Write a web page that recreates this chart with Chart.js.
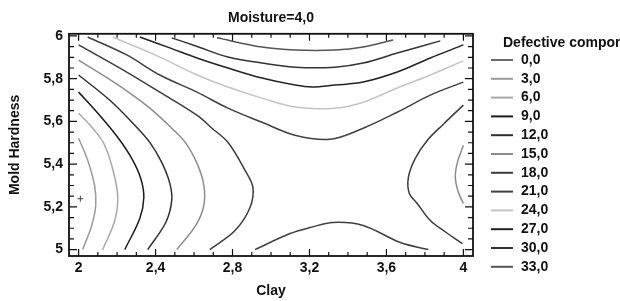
<!DOCTYPE html>
<html>
<head>
<meta charset="utf-8">
<script src="https://cdn.jsdelivr.net/npm/chart.js@4"></script>
<style>
  html, body { margin: 0; padding: 0; background: #fff; }
</style>
</head>
<body>
<canvas id="contourChart" width="620" height="301"></canvas>
<script>
// contour levels of "Defective components" and their line shades
const levels = [0, 3, 6, 9, 12, 15, 18, 21, 24, 27, 30, 33];
const levelColors = ['#6b6b6b', '#9a9a9a', '#a8a8a8', '#1a1a1a', '#303030', '#8c8c8c',
                     '#3c3c3c', '#404040', '#c4c4c4', '#222222', '#333333', '#555555'];

const xTicks = [2, 2.4, 2.8, 3.2, 3.6, 4];
const yTicks = [5, 5.2, 5.4, 5.6, 5.8, 6];
const xMinor = [2.1, 2.2, 2.3, 2.5, 2.6, 2.7, 2.9, 3.0, 3.1, 3.3, 3.4, 3.5, 3.7, 3.8, 3.9];
const yMinor = [5.05, 5.1, 5.15, 5.25, 5.3, 5.35, 5.45, 5.5, 5.55, 5.65, 5.7, 5.75, 5.85, 5.9, 5.95];

// contour lines, points as [Clay, Mold Hardness]
const c33 = [[2.719, 5.991], [2.953, 5.948], [3.125, 5.934], [3.333, 5.934], [3.479, 5.948], [3.635, 5.981]];
const c30 = [[2.484, 5.991], [2.609, 5.953], [2.776, 5.901], [2.953, 5.873], [3.125, 5.854], [3.333, 5.854],
             [3.479, 5.873], [3.656, 5.920], [3.880, 5.977]];
const c27 = [[2.318, 5.995], [2.474, 5.944], [2.615, 5.897], [2.776, 5.850], [2.953, 5.803], [3.125, 5.770],
             [3.214, 5.761], [3.333, 5.770], [3.479, 5.784], [3.656, 5.831], [3.828, 5.897], [4.0, 5.958]];
const c24 = [[2.177, 5.995], [2.422, 5.901], [2.604, 5.822], [2.776, 5.761], [2.953, 5.709], [3.125, 5.667],
             [3.333, 5.662], [3.479, 5.690], [3.656, 5.756], [3.828, 5.817], [4.0, 5.883]];
const c21Top = [[2.047, 5.995], [2.25, 5.911], [2.422, 5.817], [2.615, 5.737], [2.776, 5.662], [2.953, 5.596],
                [3.125, 5.535], [3.307, 5.516], [3.479, 5.568], [3.656, 5.643], [3.828, 5.723], [4.0, 5.784]];
const c21Bottom = [[2.917, 5.0], [3.099, 5.075], [3.203, 5.103], [3.323, 5.127], [3.479, 5.113], [3.672, 5.033], [3.818, 5.0]];
const c18Left = [[2.0, 5.958], [2.25, 5.831], [2.422, 5.737], [2.615, 5.629], [2.693, 5.568], [2.776, 5.502],
                 [2.865, 5.371], [2.906, 5.291], [2.891, 5.197], [2.813, 5.089], [2.682, 5.0]];
const c18Right = [[4.0, 5.676], [3.896, 5.587], [3.813, 5.512], [3.75, 5.427], [3.714, 5.338], [3.719, 5.263],
                  [3.760, 5.216], [3.828, 5.136], [3.911, 5.080], [3.995, 5.028]];
const c15Left = [[2.0, 5.887], [2.214, 5.765], [2.370, 5.662], [2.484, 5.568], [2.557, 5.498], [2.620, 5.394],
                 [2.651, 5.300], [2.651, 5.207], [2.609, 5.113], [2.510, 5.0]];
const c15Right = [[4.0, 5.488], [3.969, 5.408], [3.958, 5.338], [3.974, 5.268], [4.0, 5.216]];
const c12 = [[2.0, 5.817], [2.161, 5.700], [2.292, 5.582], [2.370, 5.502], [2.432, 5.408], [2.474, 5.310],
             [2.484, 5.230], [2.453, 5.127], [2.359, 5.0]];
const c9 = [[2.0, 5.737], [2.109, 5.629], [2.203, 5.526], [2.276, 5.427], [2.323, 5.333], [2.339, 5.244],
            [2.318, 5.146], [2.240, 5.0]];
const c6 = [[2.0, 5.638], [2.073, 5.568], [2.130, 5.498], [2.172, 5.394], [2.203, 5.254], [2.188, 5.136], [2.125, 5.0]];
const c3 = [[2.0, 5.521], [2.047, 5.418], [2.083, 5.300], [2.089, 5.207], [2.068, 5.113], [2.021, 5.0]];
const marker = [[2.009, 5.238]];

const contours = [
  [33, c33], [30, c30], [27, c27], [24, c24], [21, c21Top], [21, c21Bottom],
  [18, c18Left], [18, c18Right], [15, c15Left], [15, c15Right], [12, c12], [9, c9], [6, c6], [3, c3]
];

const FONT = '"Liberation Sans", Arial, Helvetica, sans-serif';
const INK = '#111';

function comma(v, digits) {
  return (digits ? v.toFixed(digits) : String(Number(v.toFixed(2)))).replace('.', ',');
}

// box frame with inward ticks on all four sides
const frameTicks = {
  id: 'frameTicks',
  afterDraw(chart) {
    const { ctx, chartArea: a, scales: { x, y } } = chart;
    ctx.save();
    ctx.strokeStyle = INK;
    ctx.lineWidth = 1.2;
    ctx.beginPath();
    const xMark = (v, len) => {
      const px = x.getPixelForValue(v);
      ctx.moveTo(px, a.bottom); ctx.lineTo(px, a.bottom - len);
      ctx.moveTo(px, a.top); ctx.lineTo(px, a.top + len);
    };
    const yMark = (v, len) => {
      const py = y.getPixelForValue(v);
      ctx.moveTo(a.left, py); ctx.lineTo(a.left + len, py);
      ctx.moveTo(a.right, py); ctx.lineTo(a.right - len, py);
    };
    xTicks.forEach(v => xMark(v, 7));
    xMinor.forEach(v => xMark(v, 4));
    yTicks.forEach(v => yMark(v, 8));
    yMinor.forEach(v => yMark(v, 5));
    ctx.stroke();
    ctx.lineWidth = 1.8;
    ctx.strokeRect(a.left, a.top, a.right - a.left, a.bottom - a.top);
    ctx.restore();
  }
};

// legend block on the right
const contourLegend = {
  id: 'contourLegend',
  afterDraw(chart) {
    const ctx = chart.ctx;
    ctx.save();
    ctx.font = 'bold 14px ' + FONT;
    ctx.fillStyle = INK;
    ctx.textAlign = 'left';
    ctx.textBaseline = 'middle';
    ctx.fillText('Defective compor', 503, 43);
    levels.forEach((lvl, i) => {
      const yy = 60 + i * 18.8;
      ctx.strokeStyle = levelColors[i];
      ctx.lineWidth = 2;
      ctx.beginPath();
      ctx.moveTo(491, yy);
      ctx.lineTo(513, yy);
      ctx.stroke();
      ctx.fillText(comma(lvl, 1), 521, yy);
    });
    ctx.restore();
  }
};

const datasets = contours.map(([lvl, pts]) => ({
  data: pts.map(p => ({ x: p[0], y: p[1] })),
  showLine: true,
  borderColor: levelColors[levels.indexOf(lvl)],
  borderWidth: 1.5,
  pointRadius: 0,
  tension: 0.35,
  fill: false
}));
datasets.push({
  data: marker.map(p => ({ x: p[0], y: p[1] })),
  showLine: false,
  pointStyle: 'cross',
  pointRadius: 3,
  borderColor: '#444',
  borderWidth: 1
});

const tickFont = { family: FONT, size: 14, weight: 'bold' };

new Chart(document.getElementById('contourChart'), {
  type: 'scatter',
  data: { datasets },
  options: {
    responsive: false,
    animation: false,
    layout: { padding: { left: 0, right: 147, top: 0, bottom: 0 } },
    plugins: {
      legend: { display: false },
      tooltip: { enabled: false },
      title: {
        display: true,
        text: 'Moisture=4,0',
        fullSize: false,
        color: INK,
        font: tickFont,
        padding: { top: 10, bottom: 7 }
      }
    },
    scales: {
      x: {
        type: 'linear',
        min: 1.95,
        max: 4.05,
        afterBuildTicks: s => { s.ticks = xTicks.map(v => ({ value: v })); },
        afterFit: s => { s.height = 45; },
        grid: { display: false, drawTicks: false },
        border: { display: false },
        ticks: { color: INK, font: tickFont, padding: 4, maxRotation: 0, autoSkip: false,
                 callback: v => comma(v) },
        title: { display: true, text: 'Clay', color: INK, font: tickFont, padding: { top: 0, bottom: 1 } }
      },
      y: {
        type: 'linear',
        min: 4.97,
        max: 6.01,
        afterBuildTicks: s => { s.ticks = yTicks.map(v => ({ value: v })); },
        afterFit: s => { s.width = 69; },
        grid: { display: false, drawTicks: false },
        border: { display: false },
        ticks: { color: INK, font: tickFont, padding: 6, autoSkip: false,
                 callback: v => comma(v) },
        title: { display: true, text: 'Mold Hardness', color: INK, font: tickFont, padding: { top: 7, bottom: 0 } }
      }
    }
  },
  plugins: [frameTicks, contourLegend]
});
</script>
</body>
</html>
